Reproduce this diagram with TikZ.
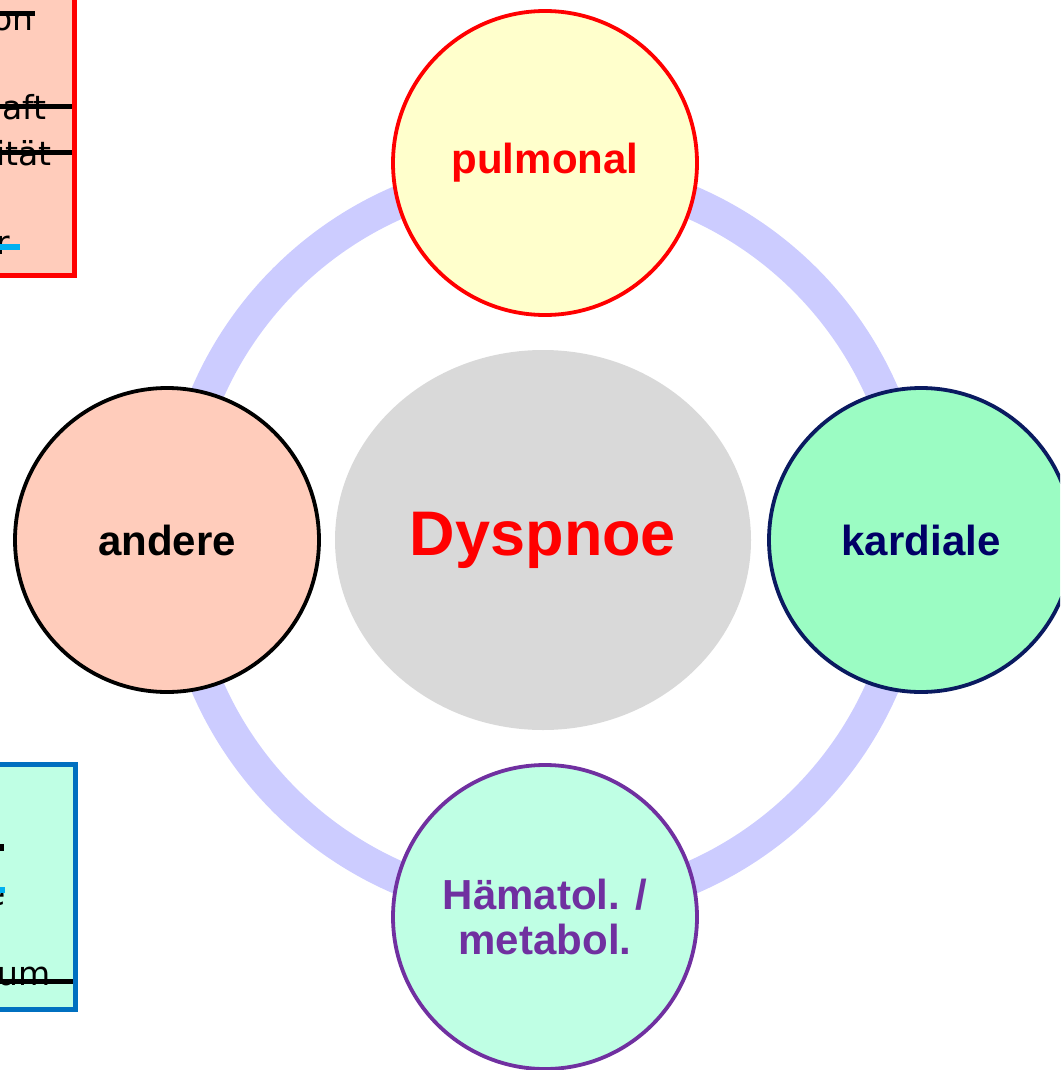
\documentclass[tikz,border=0pt]{standalone}
\usepackage{fontspec}
\setmainfont{Liberation Sans}
\newfontfamily\fragfont{DejaVu Sans}
\usetikzlibrary{shapes.geometric}
\definecolor{ringc}{HTML}{CCCCFF}
\definecolor{peach}{HTML}{FFCCBB}
\definecolor{paleyel}{HTML}{FFFFCC}
\definecolor{mint}{HTML}{9BFCC3}
\definecolor{aqua}{HTML}{BFFFE4}
\definecolor{navy}{HTML}{0A1A60}
\definecolor{navytxt}{HTML}{000066}
\definecolor{purp}{HTML}{7030A0}
\definecolor{boxblue}{HTML}{0070C0}
\definecolor{cyanbar}{HTML}{00B0F0}
\definecolor{greyc}{HTML}{D9D9D9}
\tikzset{
  x=1pt,y=-1pt,
  bubble/.style={circle,minimum size=304pt,inner sep=0pt,line width=3.8pt,align=center,
    font=\fontsize{42}{45}\selectfont\bfseries},
  frag/.style={inner sep=0pt,font=\fragfont\fontsize{33}{40}\selectfont},
  strike/.style={line width=5pt},
}
\begin{document}
\begin{tikzpicture}
\useasboundingbox (0,0) rectangle (1060,1070);
\clip (0,0) rectangle (1060,1070);
% ring
\draw[ringc,line width=33pt] (545,540) circle[radius=368];
% central ellipse
\node[ellipse,fill=greyc,minimum width=416pt,minimum height=380pt,inner sep=0pt,
  text=red,font=\fontsize{63}{70}\selectfont\bfseries] (dys) at (543,540) {\raisebox{-4pt}{Dyspnoe}};
% satellites
\node[bubble,draw=red,fill=paleyel,text=red] (pul) at (545,163) {\raisebox{-2pt}{pulmonal}};
\node[bubble,draw=black,fill=peach,text=black] (and) at (167,540) {andere};
\node[bubble,draw=navy,fill=mint,text=navytxt] (kar) at (921,540) {kardiale};
\node[bubble,draw=purp,fill=aqua,text=purp] (hae) at (545,917) {Hämatol. /\\metabol.};
% top-left box (cut off)
\draw[red,fill=peach,line width=5pt] (-20,-20) rectangle (74,275);
\node[frag,anchor=base east] (f1) at (34,31) {on};
\node[frag,anchor=base east] (f2) at (47,120) {aft};
\node[frag,anchor=base east] (f3) at (52,165) {ität};
\node[frag,anchor=base east] (f4) at (10,254) {r};
\draw[strike] (-5,14) -- (35,14);
\draw[strike] (-5,107) -- (72,107);
\draw[strike] (-5,152) -- (72,152);
\draw[strike,cyanbar,line width=6pt] (-5,247) -- (20,247);
% bottom-left box (cut off)
\draw[boxblue,fill=aqua,line width=5pt] (-20,764) rectangle (75,1009);
\node[frag,anchor=base east] (f5) at (6,905) {e};
\node[frag,anchor=base east] (f6) at (51,985) {um};
\draw[strike,line width=7pt] (-5,847.5) -- (4,847.5);
\draw[strike,cyanbar,line width=6pt] (-5,890) -- (5,890);
\draw[strike] (-5,981.5) -- (73,981.5);
\end{tikzpicture}
\end{document}
